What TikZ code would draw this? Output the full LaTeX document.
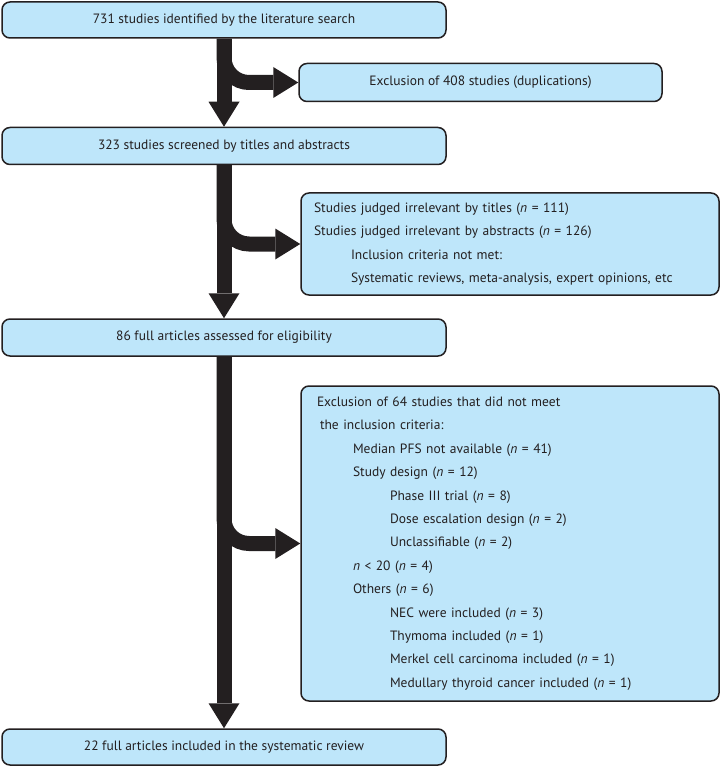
\documentclass[tikz,border=0pt]{standalone}
\usepackage{fontspec}
\setmainfont{PT Sans}
\usetikzlibrary{arrows.meta}
\definecolor{boxfill}{RGB}{190,230,250}
\definecolor{ink}{RGB}{35,31,32}
\begin{document}
\begin{tikzpicture}[x=1pt,y=-1pt,
  box/.style={draw=ink, line width=1.5pt, fill=boxfill, rounded corners=8pt, inner sep=0pt, text=ink, font=\fontsize{13.5}{16}\selectfont, align=center},
  listbox/.style={box, align=left, font=\fontsize{13.5}{23.4}\selectfont},
  mainarrow/.style={draw=ink, line width=15pt, -{Triangle[width=31pt,length=25pt,line width=0pt]}},
  branch/.style={mainarrow, rounded corners=25pt},
]
\useasboundingbox (0,0) rectangle (724,767);

\node[box, minimum width=444pt, minimum height=36pt] (b1) at (224,20) {731 studies identified by the literature search};
\node[box, minimum width=363pt, minimum height=38pt] (b2) at (480.5,82.5) {Exclusion of 408 studies (duplications)};
\node[box, minimum width=444pt, minimum height=37pt] (b3) at (224,146) {323 studies screened by titles and abstracts};
\node[listbox, inner xsep=13pt, text width=392pt, minimum height=102pt] (b4) at (510,244) {%
Studies judged irrelevant by titles (\textit{n} = 111)\\
Studies judged irrelevant by abstracts (\textit{n} = 126)\\
\hspace*{37pt}Inclusion criteria not met:\\
\hspace*{37pt}Systematic reviews, meta-analysis, expert opinions, etc};
\node[box, minimum width=444pt, minimum height=37pt] (b5) at (224,337.5) {86 full articles assessed for eligibility};
\node[listbox, inner xsep=16pt, text width=386pt, minimum height=315pt] (b6) at (510,543.5) {%
Exclusion of 64 studies that did not meet\\
\hspace*{3pt}the inclusion criteria:\\
\hspace*{36pt}Median PFS not available (\textit{n} = 41)\\
\hspace*{36pt}Study design (\textit{n} = 12)\\
\hspace*{73pt}Phase III trial (\textit{n} = 8)\\
\hspace*{73pt}Dose escalation design (\textit{n} = 2)\\
\hspace*{73pt}Unclassifiable (\textit{n} = 2)\\
\hspace*{36pt}\textit{n} < 20 (\textit{n} = 4)\\
\hspace*{36pt}Others (\textit{n} = 6)\\
\hspace*{73pt}NEC were included (\textit{n} = 3)\\
\hspace*{73pt}Thymoma included (\textit{n} = 1)\\
\hspace*{73pt}Merkel cell carcinoma included (\textit{n} = 1)\\
\hspace*{73pt}Medullary thyroid cancer included (\textit{n} = 1)};
\node[box, minimum width=444pt, minimum height=36pt] (b7) at (224,747) {22 full articles included in the systematic review};

\draw[branch] (b1.south) |- (b2.west);
\draw[mainarrow] (b1.south) -- (b3.north);
\draw[branch] (b3.south) |- (b4.west);
\draw[mainarrow] (b3.south) -- (b5.north);
\draw[branch] (b5.south) |- (b6.west);
\draw[mainarrow] (b5.south) -- (b7.north);
\end{tikzpicture}
\end{document}
